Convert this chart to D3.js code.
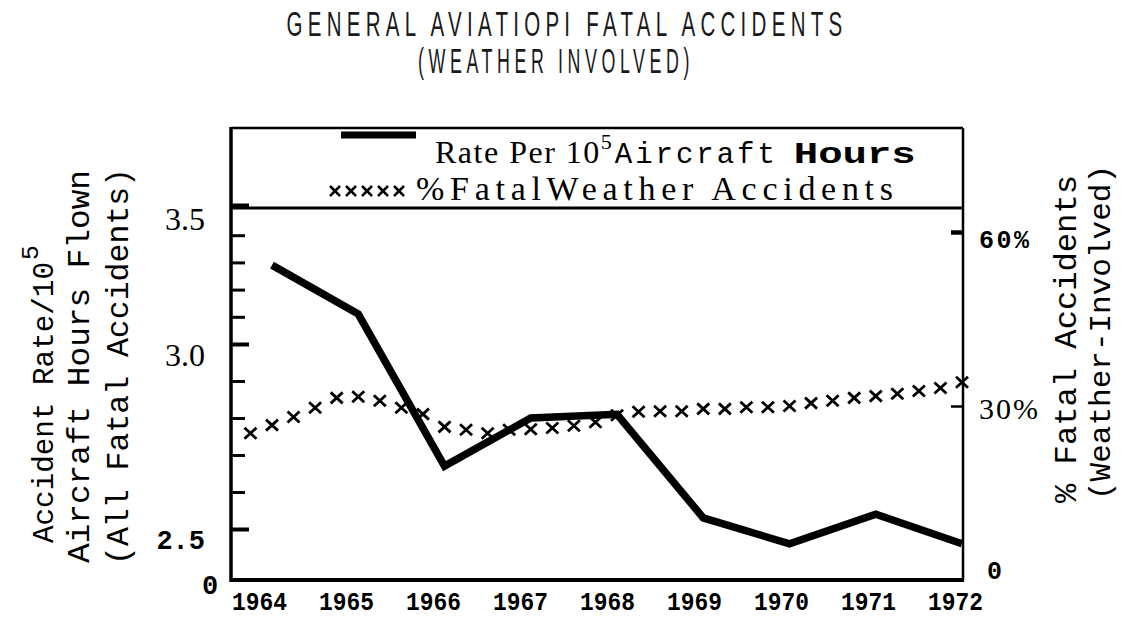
<!DOCTYPE html>
<html><head><meta charset="utf-8">
<script src="https://cdn.jsdelivr.net/npm/d3@7"></script>
<style>body{margin:0;background:#fff}svg{display:block}</style>
</head><body>
<svg id="c" width="1121" height="618"></svg>
<script>
// ---- data ----
const years = [1964, 1965, 1966, 1967, 1968, 1969, 1970, 1971, 1972];
const ratePer1e5 = [3.29, 3.11, 2.67, 2.80, 2.81, 2.53, 2.46, 2.54, 2.46];
const pctTime = [1963.75, 1964, 1964.25, 1964.5, 1964.75, 1965, 1965.25, 1965.5, 1965.75,
  1966, 1966.25, 1966.5, 1966.75, 1967, 1967.25, 1967.5, 1967.75, 1968, 1968.25, 1968.5,
  1968.75, 1969, 1969.25, 1969.5, 1969.75, 1970, 1970.25, 1970.5, 1970.75, 1971, 1971.25,
  1971.5, 1971.75, 1972];
const pctWeather = [25.3, 26.7, 28.1, 29.7, 31.4, 31.6, 30.9, 29.7, 28.6, 26.4, 25.9, 25.3,
  25.9, 26.0, 26.2, 26.6, 27.2, 28.4, 29.0, 29.1, 29.1, 29.5, 29.5, 29.8, 29.8, 30.0, 30.5,
  30.9, 31.4, 31.7, 32.1, 32.6, 33.1, 34.1];
const leftMajorTicks = [2.5, 3.0, 3.5];
const leftMinorTicks = [2.6, 2.7, 2.8, 2.9, 3.1, 3.2, 3.3, 3.4];
const rightTicks = [0, 30, 60];
const titleLines = ["GENERAL AVIATIOPI FATAL ACCIDENTS", "(WEATHER INVOLVED)"];

// ---- layout ----
const L = 231, R = 963, T = 128, B = 580, DIV = 208;
const svg = d3.select("#c");
const serif = "'Liberation Serif','Times New Roman',serif";
const mono = "'Liberation Mono','Courier New',monospace";
const narrow = "'Liberation Sans Narrow','Liberation Sans',sans-serif";

const x = d3.scaleLinear().domain([1964, 1972]).range([272, R - 1]);
const yL = d3.scaleLinear().domain([2.5, 3.0, 3.5]).range([529, 344, 208]);
const yR = d3.scaleLinear().domain([0, 60]).range([B, 232]);

// ---- title ----
[[567, 36, 561], [556, 73, 276]].forEach((p, i) => {
  svg.append("text").attr("x", p[0]).attr("y", p[1]).attr("text-anchor", "middle")
    .attr("font-family", narrow).attr("font-size", 35).attr("fill", "#1a1a1a")
    .attr("letter-spacing", 9)
    .attr("textLength", p[2]).attr("lengthAdjust", "spacingAndGlyphs").text(titleLines[i]);
});

// ---- frame ----
const g = svg.append("g");
g.append("line").attr("x1", L).attr("x2", L).attr("y1", T - 1).attr("y2", B + 2).attr("stroke", "#000").attr("stroke-width", 3.5);
g.append("line").attr("x1", L - 1).attr("x2", R + 1).attr("y1", B).attr("y2", B).attr("stroke", "#000").attr("stroke-width", 4);
g.append("line").attr("x1", L).attr("x2", R).attr("y1", T).attr("y2", T).attr("stroke", "#000").attr("stroke-width", 2.5);
g.append("line").attr("x1", R).attr("x2", R).attr("y1", T).attr("y2", B).attr("stroke", "#000").attr("stroke-width", 2.5);
g.append("line").attr("x1", L).attr("x2", R).attr("y1", DIV).attr("y2", DIV).attr("stroke", "#000").attr("stroke-width", 3);

// ---- left axis ----
const axL = svg.append("g").attr("transform", `translate(${L},0)`)
  .call(d3.axisLeft(yL).tickValues(leftMajorTicks).tickSize(-18).tickPadding(26)
    .tickFormat(d3.format(".1f")));
axL.select(".domain").remove();
axL.selectAll(".tick line").attr("stroke", "#000").attr("stroke-width", 4)
  .attr("transform", d => d === 3.5 ? "translate(0,-3)" : null);
axL.selectAll(".tick text").attr("fill", "#000").attr("dy", "0.68em")
  .each(function (d) {
    const s = d3.select(this);
    if (d === 2.5) s.attr("font-family", mono).attr("font-weight", "bold").attr("font-size", 27).attr("dy", "0.74em");
    else s.attr("font-family", serif).attr("font-size", 32);
  });
const axLm = svg.append("g").attr("transform", `translate(${L},0)`)
  .call(d3.axisLeft(yL).tickValues(leftMinorTicks).tickSize(-14).tickFormat(""));
axLm.select(".domain").remove();
axLm.selectAll(".tick line").attr("stroke", "#000").attr("stroke-width", 3);
svg.append("text").attr("x", 210).attr("y", B + 14).attr("text-anchor", "middle")
  .attr("font-family", mono).attr("font-weight", "bold").attr("font-size", 27).text("0");

// ---- right axis ----
const axR = svg.append("g").attr("transform", `translate(${R},0)`)
  .call(d3.axisRight(yR).tickValues(rightTicks).tickSize(-12).tickPadding(16)
    .tickFormat(d => d === 0 ? "0" : d + "%"));
axR.select(".domain").remove();
axR.selectAll(".tick line").attr("stroke", "#000").attr("stroke-width", d => d === 60 ? 4.5 : 2.5)
  .attr("opacity", d => d === 0 ? 0 : 1);
axR.selectAll(".tick text").attr("fill", "#000")
  .each(function (d) {
    const s = d3.select(this);
    if (d === 30) s.attr("font-family", serif).attr("font-size", 30).attr("dy", "0.42em").attr("letter-spacing", 2);
    else if (d === 60) s.attr("font-family", mono).attr("font-weight", "bold").attr("font-size", 25).attr("dy", "0.6em").attr("letter-spacing", 2.5);
    else s.attr("font-family", mono).attr("font-weight", "bold").attr("font-size", 25).attr("dy", "-0.05em").attr("dx", 8);
  });

// ---- x axis ----
const axX = svg.append("g").attr("transform", `translate(0,${B})`)
  .call(d3.axisBottom(x).tickValues(years).tickSize(0).tickPadding(12).tickFormat(d3.format("d")));
axX.select(".domain").remove();
axX.selectAll(".tick text").attr("fill", "#000").attr("font-family", mono)
  .attr("font-weight", "bold").attr("font-size", 25).attr("dx", (d, i) => -13 + i * 0.75)
  .attr("textLength", 55).attr("lengthAdjust", "spacingAndGlyphs");

// ---- axis titles ----
function vtext(xp, yb, size, parts) {
  const t = svg.append("text").attr("transform", `translate(${xp},${yb}) rotate(-90)`)
    .attr("font-family", mono).attr("font-size", size).attr("fill", "#000");
  parts.forEach(p => {
    const ts = t.append("tspan").text(p.t);
    if (p.sup) ts.attr("dy", -15).attr("dx", 2).attr("font-size", size * 0.85);
    if (p.len) ts.attr("textLength", p.len).attr("lengthAdjust", "spacingAndGlyphs");
  });
  return t;
}
vtext(53, 543, 29, [{t: "Accident Rate/10", len: 281}, {t: "5", sup: true}]);
vtext(89, 563, 32, [{t: "Aircraft Hours Flown", len: 393}]);
vtext(128, 565, 32, [{t: "(All Fatal Accidents)", len: 397}]);
vtext(1076, 503, 32, [{t: "% Fatal Accidents", len: 328}]);
vtext(1110, 500, 30, [{t: "(Weather-Involved)", len: 335}]);

// ---- legend ----
svg.append("line").attr("x1", 341).attr("x2", 416).attr("y1", 135).attr("y2", 135)
  .attr("stroke", "#000").attr("stroke-width", 7);
const lg1 = svg.append("text").attr("x", 435).attr("y", 163).attr("fill", "#000");
lg1.append("tspan").attr("font-family", serif).attr("font-size", 32).attr("letter-spacing", 1.5).text("Rate Per 10");
lg1.append("tspan").attr("font-family", serif).attr("font-size", 22).attr("dy", -14).text("5");
lg1.append("tspan").attr("font-family", mono).attr("font-size", 29).attr("dy", 14).attr("dx", 3)
  .attr("textLength", 160).attr("lengthAdjust", "spacing").text("Aircraft");
lg1.append("tspan").attr("font-family", mono).attr("font-size", 30).attr("font-weight", "bold").attr("dx", 16)
  .attr("textLength", 122).attr("lengthAdjust", "spacingAndGlyphs").text("Hours");
const xs = [0, 1, 2, 3, 4];
svg.selectAll(".lgx").data(xs).enter().append("path").attr("class", "lgx")
  .attr("transform", d => `translate(${335 + d * 16},${191})`)
  .attr("d", "M-5,-5L5,5M5,-5L-5,5").attr("stroke", "#000").attr("stroke-width", 2.5);
svg.append("text").attr("x", 416).attr("y", 200).attr("fill", "#000")
  .attr("font-family", serif).attr("font-size", 34)
  .attr("textLength", 477).attr("lengthAdjust", "spacing").text("%FatalWeather Accidents");

// ---- data marks ----
const rateData = years.map((y, i) => ({year: y, v: ratePer1e5[i]}));
svg.append("path").datum(rateData)
  .attr("d", d3.line().x(d => x(d.year)).y(d => yL(d.v)))
  .attr("fill", "none").attr("stroke", "#000").attr("stroke-width", 7.5)
  .attr("stroke-linejoin", "miter");
const pctData = pctTime.map((t, i) => ({t, v: pctWeather[i]}));
svg.selectAll(".mk").data(pctData).enter().append("path").attr("class", "mk")
  .attr("transform", d => `translate(${x(d.t)},${yR(d.v)})`)
  .attr("d", "M-6,-5.5L6,5.5M6,-5.5L-6,5.5").attr("stroke", "#000").attr("stroke-width", 2.8);
</script>
</body></html>
